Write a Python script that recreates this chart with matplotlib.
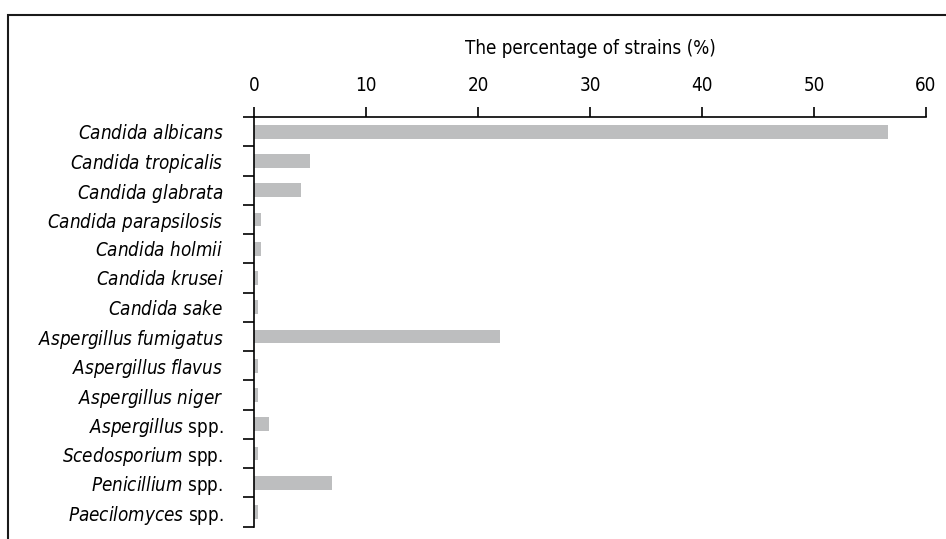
import numpy as np
import matplotlib.pyplot as plt
from matplotlib.patches import Rectangle

plt.rcParams['font.family'] = ['DejaVu Sans']
plt.rcParams['font.stretch'] = 'condensed'
plt.rcParams['mathtext.fontset'] = 'custom'
plt.rcParams['mathtext.it'] = 'DejaVu Sans:italic:stretch=condensed'
plt.rcParams['mathtext.rm'] = 'DejaVu Sans:stretch=condensed'

# species (genus part italic), and share of strains in %
species = ['Candida albicans', 'Candida tropicalis', 'Candida glabrata',
           'Candida parapsilosis', 'Candida holmii', 'Candida krusei',
           'Candida sake', 'Aspergillus fumigatus', 'Aspergillus flavus',
           'Aspergillus niger', 'Aspergillus spp.', 'Scedosporium spp.',
           'Penicillium spp.', 'Paecilomyces spp.']
percent = [56.6, 5.0, 4.2, 0.6, 0.6, 0.33, 0.33, 22.0, 0.33, 0.33,
           1.3, 0.33, 7.0, 0.33]
x_ticks = [0, 10, 20, 30, 40, 50, 60]


def label(name):
    # italic genus/species, upright "spp."
    if name.endswith(' spp.'):
        g = name[:-5]
        return r'$\mathit{' + g + r'}$ spp.'
    return r'$\mathit{' + name.replace(' ', r'\ ') + r'}$'


def main():
    fig = plt.figure(figsize=(9.46, 5.39), dpi=100)
    ax = fig.add_axes([0.2685, 0.0228, 0.9789 - 0.2685, 0.7829 - 0.0228])

    # outer frame, cut off at right and bottom like the source
    fig.patches.append(Rectangle((8 / 946, -0.1), 1.2, 1 - 15 / 539 + 0.1,
                                 transform=fig.transFigure, fill=False,
                                 edgecolor='#1a1a1a', linewidth=1.5))

    y = np.arange(len(species))
    ax.barh(y, percent, height=0.47, color='#bdbebf')

    ax.set_xlim(0, 60)
    ax.set_ylim(len(species) - 0.5, -0.5)

    ax.xaxis.tick_top()
    ax.xaxis.set_label_position('top')
    ax.set_xticks(x_ticks)
    ax.tick_params(axis='x', length=7, width=1.2, pad=9, labelsize=13.5)
    ax.set_xlabel('The percentage of strains (%)', fontsize=13.5, labelpad=16)

    ax.set_yticks(y)
    ax.set_yticklabels([label(s) for s in species], fontsize=13.5)
    ax.tick_params(axis='y', which='major', length=0, pad=22)
    ax.set_yticks(np.arange(len(species) + 1) - 0.5, minor=True)
    ax.tick_params(axis='y', which='minor', length=8, width=1.2)

    for s in ['right', 'bottom']:
        ax.spines[s].set_visible(False)
    for s in ['top', 'left']:
        ax.spines[s].set_linewidth(1.2)

    fig.savefig('out.png', dpi=100)


if __name__ == '__main__':
    main()
